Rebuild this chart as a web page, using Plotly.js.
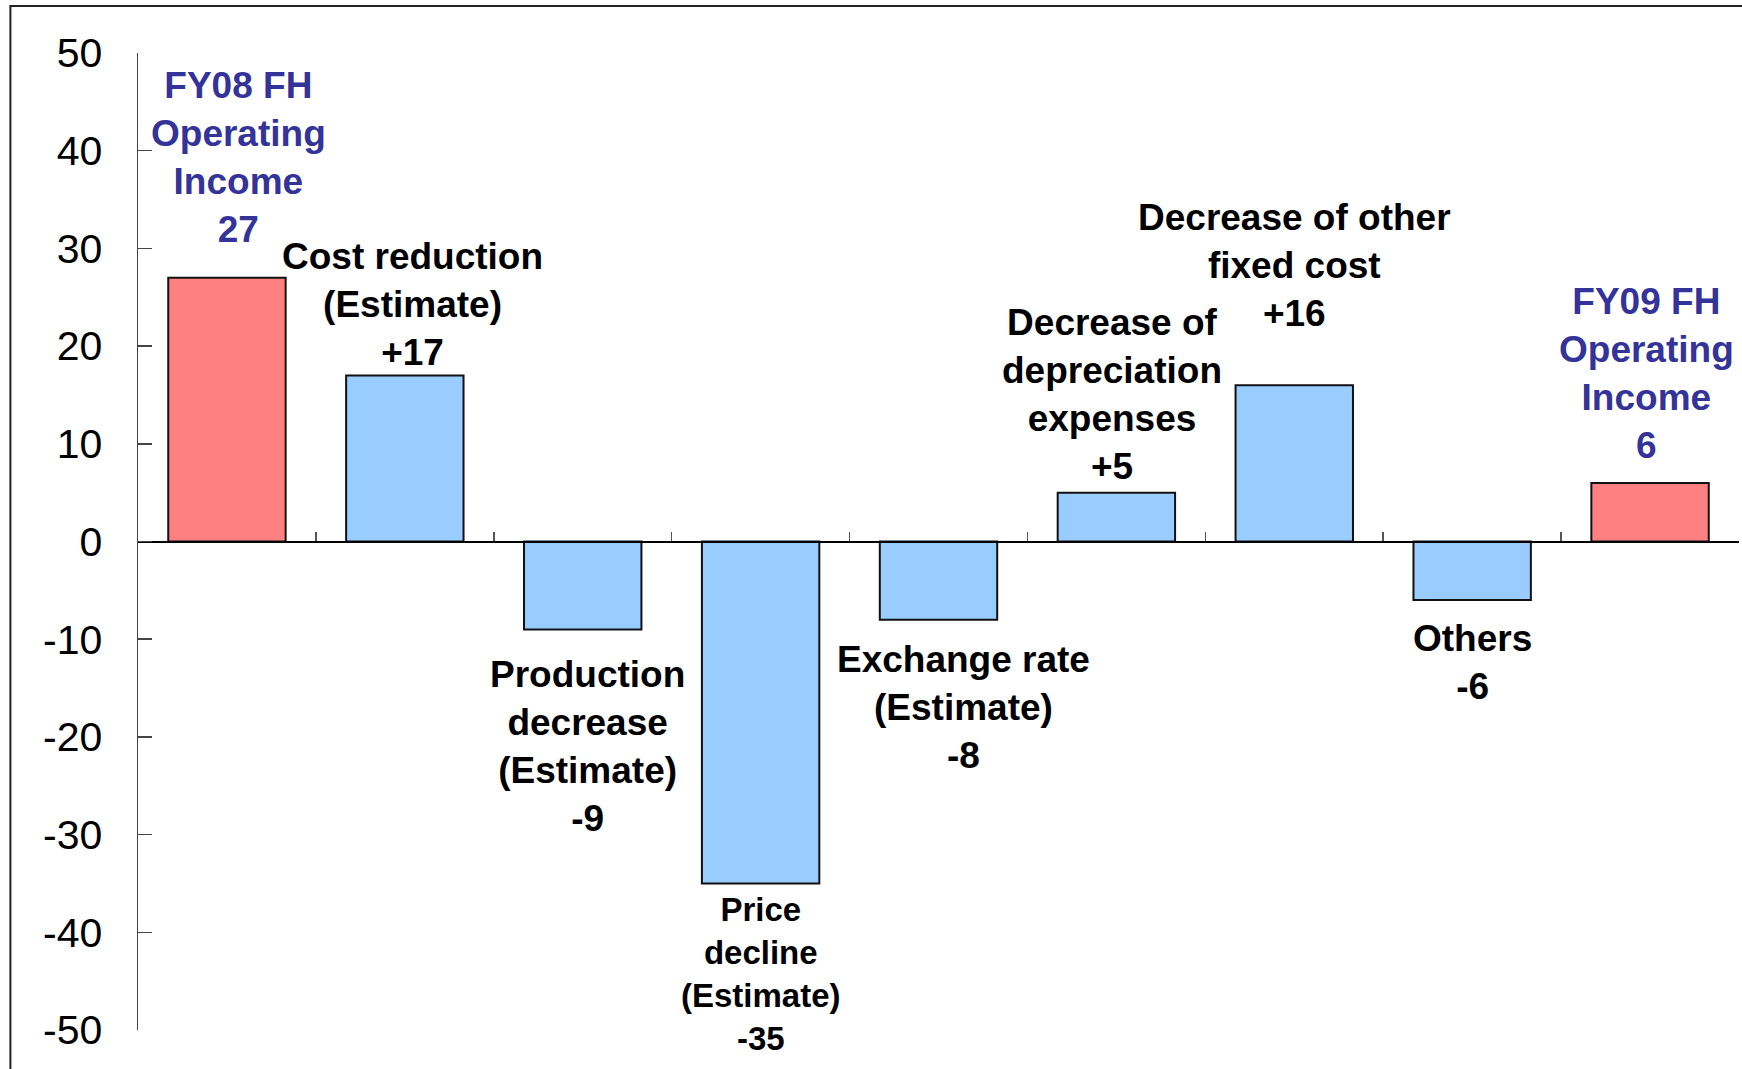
<!DOCTYPE html>
<html>
<head>
<meta charset="utf-8">
<script src="https://cdn.plot.ly/plotly-3.0.1.min.js"></script>
<style>
  html, body { margin: 0; padding: 0; background: #ffffff; }
  #chart { width: 1742px; height: 1069px; }
</style>
</head>
<body>
<div id="chart"></div>
<script>
// Operating income bridge, FY08 FH -> FY09 FH
const categories = [
  "FY08 FH Operating Income",
  "Cost reduction (Estimate)",
  "Production decrease (Estimate)",
  "Price decline (Estimate)",
  "Exchange rate (Estimate)",
  "Decrease of depreciation expenses",
  "Decrease of other fixed cost",
  "Others",
  "FY09 FH Operating Income"
];
const values = [27, 17, -9, -35, -8, 5, 16, -6, 6];
// true = totals (red bars, blue labels), false = change factors
const isTotal = [true, false, false, false, false, false, false, false, true];
// label lines shown above / below each bar (value line appended)
const labelLines = [
  ["FY08 FH", "Operating", "Income"],
  ["Cost reduction", "(Estimate)"],
  ["Production", "decrease", "(Estimate)"],
  ["Price", "decline", "(Estimate)"],
  ["Exchange rate", "(Estimate)"],
  ["Decrease of", "depreciation", "expenses"],
  ["Decrease of other", "fixed cost"],
  ["Others"],
  ["FY09 FH", "Operating", "Income"]
];
const yTickVals = [-50, -40, -30, -20, -10, 0, 10, 20, 30, 40, 50];

// label placement (layout only): block centre in axis units, horizontal nudge in px, font size
const labelY = [39.3, 24.3, -21.0, -44.3, -17.0, 15.0, 28.2, -12.4, 17.2];
const labelShift = [12, 8, 5, 0, 25, -4, 0, 0, -4];
const labelSize = [37, 37, 37, 33, 37, 37, 37, 37, 37];

const RED = "#FF8080", BLUE = "#99CCFF";
const FONT = "Liberation Sans, Arial, Helvetica, sans-serif";

function fmt(v, total) {
  if (total) return String(v);
  return v > 0 ? "+" + v : String(v);
}

const trace = {
  type: "bar",
  x: categories,
  y: values,
  marker: {
    color: isTotal.map(t => t ? RED : BLUE),
    line: { color: "#111111", width: 2 }
  },
  hoverinfo: "x+y"
};

const annotations = categories.map((c, i) => ({
  xref: "x", yref: "y",
  x: i, y: labelY[i],
  xshift: labelShift[i],
  xanchor: "center", yanchor: "middle",
  align: "center",
  showarrow: false,
  text: labelLines[i].concat([fmt(values[i], isTotal[i])]).join("<br>"),
  font: { family: FONT, size: labelSize[i], weight: "bold",
          color: isTotal[i] ? "#333399" : "#000000" }
}));

const layout = {
  width: 1742,
  height: 1069,
  margin: { l: 138, r: 3, t: 53, b: 39, pad: 0 },
  paper_bgcolor: "#ffffff",
  plot_bgcolor: "rgba(0,0,0,0)",
  showlegend: false,
  bargap: 0.34,
  xaxis: {
    type: "category",
    anchor: "free",
    position: 0.5,
    showline: true,
    linecolor: "#000000",
    linewidth: 2,
    ticks: "inside",
    tickson: "boundaries",
    ticklen: 9,
    tickwidth: 1.5,
    tickcolor: "#555555",
    showticklabels: false,
    showgrid: false,
    zeroline: false,
    fixedrange: true
  },
  yaxis: {
    range: [-50, 50],
    tickvals: yTickVals,
    ticktext: yTickVals.map(String),
    ticks: "inside",
    ticklen: 14,
    tickwidth: 1.5,
    tickcolor: "#444444",
    showline: true,
    linecolor: "#444444",
    linewidth: 1.5,
    showgrid: false,
    zeroline: false,
    ticklabelstandoff: 26,
    tickfont: { family: FONT, size: 41, color: "#000000" },
    fixedrange: true
  },
  shapes: [{
    type: "rect",
    xref: "paper", yref: "paper",
    x0: -0.0797, x1: 1.2, y0: -0.2, y1: 1.048,
    line: { color: "#222222", width: 2 },
    fillcolor: "rgba(0,0,0,0)",
    layer: "below"
  }],
  annotations: annotations
};

Plotly.newPlot("chart", [trace], layout, { displayModeBar: false, staticPlot: true });
</script>
</body>
</html>
